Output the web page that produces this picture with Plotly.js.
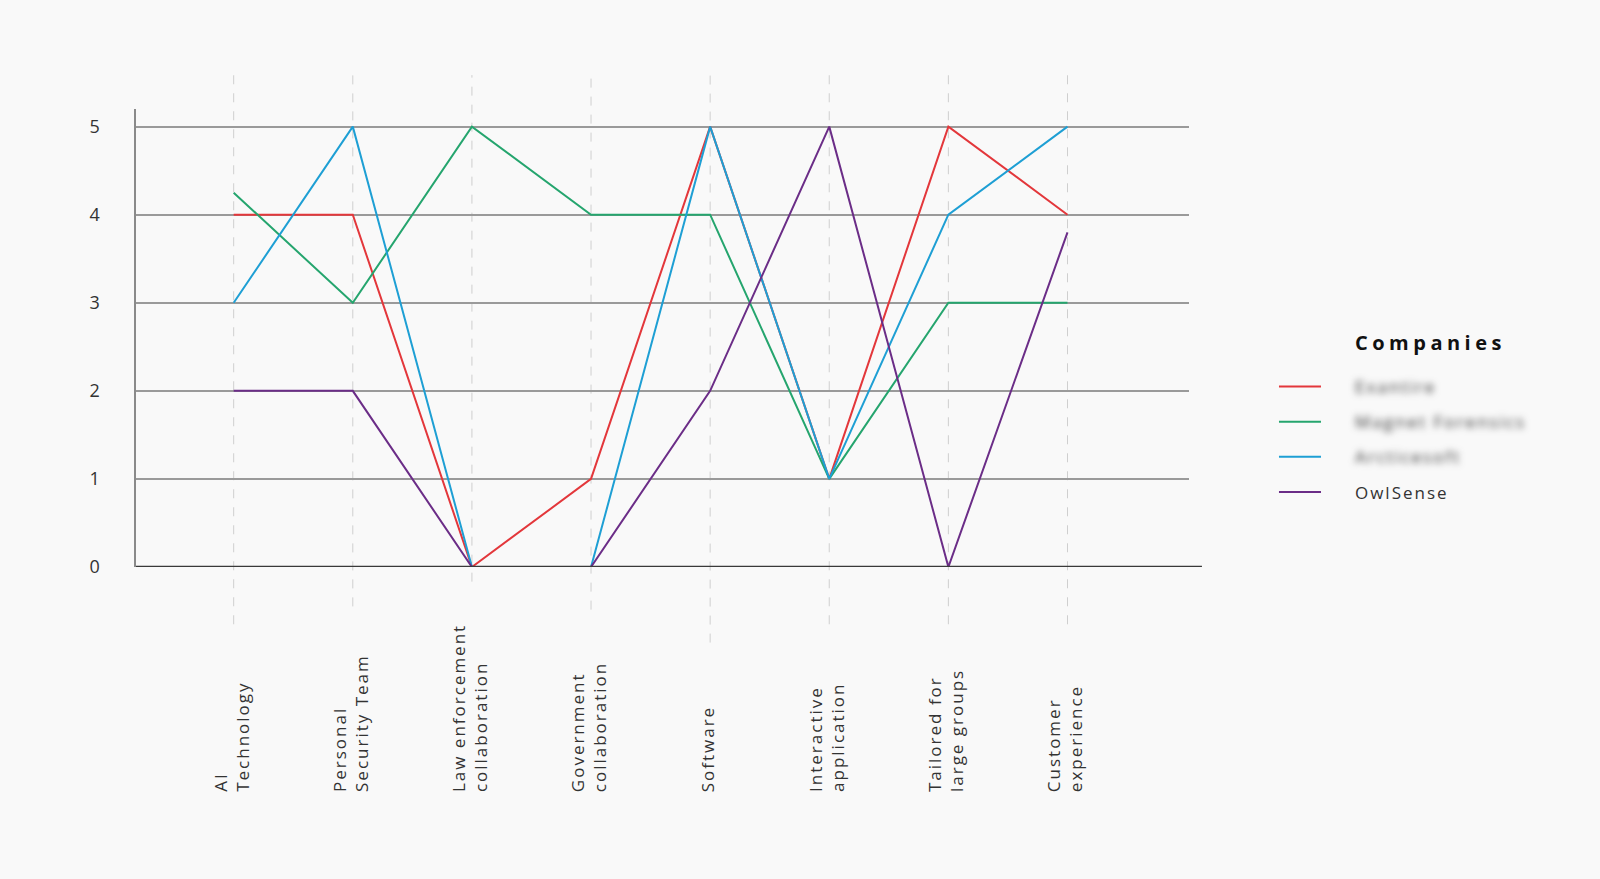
<!DOCTYPE html>
<html>
<head>
<meta charset="utf-8">
<script src="https://cdn.plot.ly/plotly-3.0.1.min.js"></script>
<style>
html,body{margin:0;padding:0;background:#f9f9f9;}
#chart{width:1600px;height:879px;}
.annotation-text{letter-spacing:2px;}
.legend .scrollbox{clip-path:none !important;}
.legendtext{letter-spacing:2px;transform:translateX(29px);filter:blur(3.5px);}
.legend .groups:last-child .legendtext{filter:none;}
.legendtitletext{letter-spacing:4.5px;transform:translate(79px,-19px);}
</style>
</head>
<body>
<div id="chart"></div>
<script>
// Data
const categories = ["AI Technology","Personal Security Team","Law enforcement collaboration","Government collaboration","Software","Interactive application","Tailored for large groups","Customer experience"];
const categoryLabels = ["AI<br>Technology","Personal<br>Security Team","Law enforcement<br>collaboration","Government<br>collaboration","Software","Interactive<br>application","Tailored for<br>large groups","Customer<br>experience"];
const seriesNames = ["Exantire","Magnet Forensics","Arcticesoft","OwlSense"];
const exantire = [4,4,0,1,5,1,5,4];
const magnet = [4.25,3,5,4,4,1,3,3];
const arcticesoft = [3,5,0,0,5,1,4,5];
const owlsense = [2,2,0,0,2,5,0,3.8];
const yTicks = [0,1,2,3,4,5];

// Styling
const colors = ["#e3373b","#25a56e","#1e9fd4","#6b2d87"];
const dashBottoms = [-0.125,-0.086,-0.032,-0.093,-0.165,-0.125,-0.125,-0.125];
const values = [exantire, magnet, arcticesoft, owlsense];
const idx = categories.map((c,i)=>i);

const traces = values.map((v,k)=>({
  type:"scatter", mode:"lines", x: idx, y: v, name: seriesNames[k], legendgroup:"g"+k,
  line:{color:colors[k], width:2}, hoverinfo:"skip"
}));

const shapes = idx.map(i=>({
  type:"line", xref:"x", yref:"paper", x0:i, x1:i, y0:dashBottoms[i], y1:1.074,
  line:{color:"#cfcfcf", width:1, dash:"dash"}, layer:"below"
}));
shapes.push({type:"line", xref:"paper", yref:"y", x0:0, x1:1.0123, y0:0, y1:0, line:{color:"#3a3a3a", width:2.5}});

const annotations = idx.map(i=>({
  x:i, xref:"x", y:-0.496, yref:"paper", text:categoryLabels[i], showarrow:false,
  textangle:-90, xanchor:"center", yanchor:"bottom", align:"left", xshift:-3,
  font:{family:"Open Sans, sans-serif", size:17, color:"#333"}
}));

const layout = {
  width:1600, height:879,
  paper_bgcolor:"#f9f9f9", plot_bgcolor:"#f9f9f9",
  margin:{l:136, r:411, t:109, b:311.5},
  font:{family:"Open Sans, sans-serif", color:"#333"},
  xaxis:{range:[-0.82,8.02], showgrid:false, zeroline:false, showticklabels:false, showline:false, fixedrange:true},
  yaxis:{range:[0,5.2], tickvals:yTicks, ticktext:yTicks.map(String), showgrid:true, gridcolor:"#9a9a9a", gridwidth:2,
         zeroline:false, showline:true, linecolor:"#8a8a8a", linewidth:2.5, ticks:"", ticklabelstandoff:30,
         tickfont:{size:18, color:"#333"}, fixedrange:true},
  showlegend:true,
  legend:{x:1.0807, xanchor:"left", y:0.489, yanchor:"top", bgcolor:"rgba(0,0,0,0)",
          title:{text:"<b>Companies</b>", font:{size:20, color:"#111"}},
          font:{size:17, color:"#333"}, tracegroupgap:10, itemwidth:42},
  shapes: shapes,
  annotations: annotations
};

Plotly.newPlot("chart", traces, layout, {displayModeBar:false, staticPlot:true});
</script>
</body>
</html>
